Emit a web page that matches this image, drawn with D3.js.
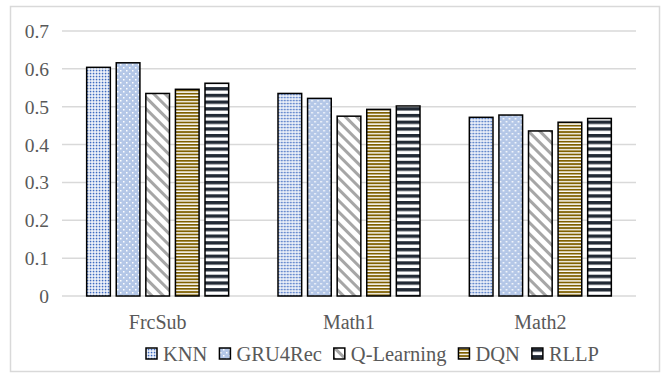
<!DOCTYPE html>
<html>
<head>
<meta charset="utf-8">
<script src="https://cdn.jsdelivr.net/npm/d3@7"></script>
<style>
  html, body { margin: 0; padding: 0; background: #fff; }
  svg { display: block; }
  text { font-family: "Liberation Serif", "Times New Roman", serif; fill: #595959; }
</style>
</head>
<body>
<svg id="chart" width="665" height="376"></svg>
<script>
// Datasets along the x axis
const categories = ["FrcSub", "Math1", "Math2"];
// Methods compared in each dataset
const seriesNames = ["KNN", "GRU4Rec", "Q-Learning", "DQN", "RLLP"];
// Scores per method, one entry per dataset
const knn       = [0.604, 0.535, 0.472];
const gru4rec   = [0.616, 0.522, 0.478];
const qLearning = [0.535, 0.475, 0.436];
const dqn       = [0.546, 0.493, 0.459];
const rllp      = [0.562, 0.502, 0.469];
const yTicks = [0, 0.1, 0.2, 0.3, 0.4, 0.5, 0.6, 0.7];
const yTickLabels = ["0", "0.1", "0.2", "0.3", "0.4", "0.5", "0.6", "0.7"];

const seriesValues = [knn, gru4rec, qLearning, dqn, rllp];

const svg = d3.select("#chart");
const plot = { left: 62, right: 636, top: 31, bottom: 296 };

// Fill patterns, one per method
const defs = svg.append("defs");
function pattern(id, w, h, transform) {
  const p = defs.append("pattern")
    .attr("id", id)
    .attr("patternUnits", "userSpaceOnUse")
    .attr("width", w).attr("height", h);
  if (transform) p.attr("patternTransform", transform);
  return p;
}
// KNN: fine blue dots on white
{
  const p = pattern("pat-knn", 3, 3);
  p.append("rect").attr("width", 3).attr("height", 3).attr("fill", "#fff");
  p.append("rect").attr("x", 0.7).attr("y", 0.7).attr("width", 1.7).attr("height", 1.7).attr("fill", "#3E6BC0");
}
// GRU4Rec: light blue with sparse white dots
{
  const p = pattern("pat-gru", 6, 6);
  p.append("rect").attr("width", 6).attr("height", 6).attr("fill", "#B4C7E7");
  p.append("rect").attr("x", 1).attr("y", 1).attr("width", 1.5).attr("height", 1.5).attr("fill", "#fff");
  p.append("rect").attr("x", 4).attr("y", 4).attr("width", 1.5).attr("height", 1.5).attr("fill", "#fff");
}
// Q-Learning: grey diagonal stripes
{
  const p = pattern("pat-ql", 8, 8, "rotate(45)");
  p.append("rect").attr("width", 8).attr("height", 8).attr("fill", "#fff");
  p.append("rect").attr("width", 8).attr("height", 3).attr("fill", "#A6A6A6");
}
// DQN: thin dark-gold horizontal lines
{
  const p = pattern("pat-dqn", 4, 3.2);
  p.append("rect").attr("width", 4).attr("height", 3.2).attr("fill", "#fff");
  p.append("rect").attr("width", 4).attr("height", 1.8).attr("fill", "#7F6000");
}
// RLLP: wide navy horizontal bands
{
  const p = pattern("pat-rllp", 4, 6.7);
  p.append("rect").attr("width", 4).attr("height", 6.7).attr("fill", "#fff");
  p.append("rect").attr("width", 4).attr("height", 3.4).attr("fill", "#222A35");
}
const fills = ["url(#pat-knn)", "url(#pat-gru)", "url(#pat-ql)", "url(#pat-dqn)", "url(#pat-rllp)"];

// Outer frame
svg.append("rect")
  .attr("x", 10.5).attr("y", 6.5)
  .attr("width", 649).attr("height", 365)
  .attr("fill", "none").attr("stroke", "#D9D9D9").attr("stroke-width", 1.5);

// Scales
const y = d3.scaleLinear().domain([0, 0.7]).range([plot.bottom, plot.top]);
const x0 = d3.scaleBand().domain(categories).range([plot.left, plot.right]).padding(0);
const groupSpan = 142;
const x1 = d3.scaleBand().domain(seriesNames)
  .range([(x0.bandwidth() - groupSpan) / 2, (x0.bandwidth() + groupSpan) / 2])
  .paddingInner(0.2).paddingOuter(0);

// Gridlines
svg.append("g").selectAll("line").data(yTicks).join("line")
  .attr("x1", plot.left).attr("x2", plot.right)
  .attr("y1", d => y(d)).attr("y2", d => y(d))
  .attr("stroke", "#D9D9D9").attr("stroke-width", 1.5);

// Y axis labels
const yAxis = d3.axisLeft(y).tickValues(yTicks)
  .tickFormat((d, i) => yTickLabels[i]).tickSize(0).tickPadding(0);
const gy = svg.append("g").attr("transform", "translate(49,0)").call(yAxis);
gy.select(".domain").remove();
gy.selectAll("text").attr("font-size", 19.5).attr("dy", "0.33em")
  .style("font-family", "'Liberation Serif', serif").attr("fill", "#595959");

// X axis labels
const xAxis = d3.axisBottom(x0).tickSize(0).tickPadding(0);
const gx = svg.append("g").attr("transform", `translate(0,${plot.bottom})`).call(xAxis);
gx.select(".domain").remove();
gx.selectAll("text").attr("font-size", 20).attr("dy", null).attr("y", 33)
  .style("font-family", "'Liberation Serif', serif").attr("fill", "#595959");

// Bars
const groups = svg.append("g").selectAll("g").data(categories).join("g")
  .attr("transform", d => `translate(${x0(d)},0)`);
groups.selectAll("rect")
  .data((c, ci) => seriesNames.map((s, si) => ({ s, si, v: seriesValues[si][ci] })))
  .join("rect")
  .attr("x", d => x1(d.s))
  .attr("y", d => y(d.v))
  .attr("width", x1.bandwidth())
  .attr("height", d => y(0) - y(d.v))
  .attr("fill", d => fills[d.si])
  .attr("stroke", "#000").attr("stroke-width", 1.5);

// Legend
const legend = svg.append("g");
let cx = 146;
seriesNames.forEach((name, i) => {
  legend.append("rect")
    .attr("x", cx).attr("y", 348).attr("width", 11).attr("height", 11)
    .attr("fill", fills[i]).attr("stroke", "#000").attr("stroke-width", 1.5);
  const t = legend.append("text")
    .attr("x", cx + 17).attr("y", 361)
    .attr("font-size", 20.5).text(name);
  cx = cx + 17 + t.node().getComputedTextLength() + 12;
});
</script>
</body>
</html>
